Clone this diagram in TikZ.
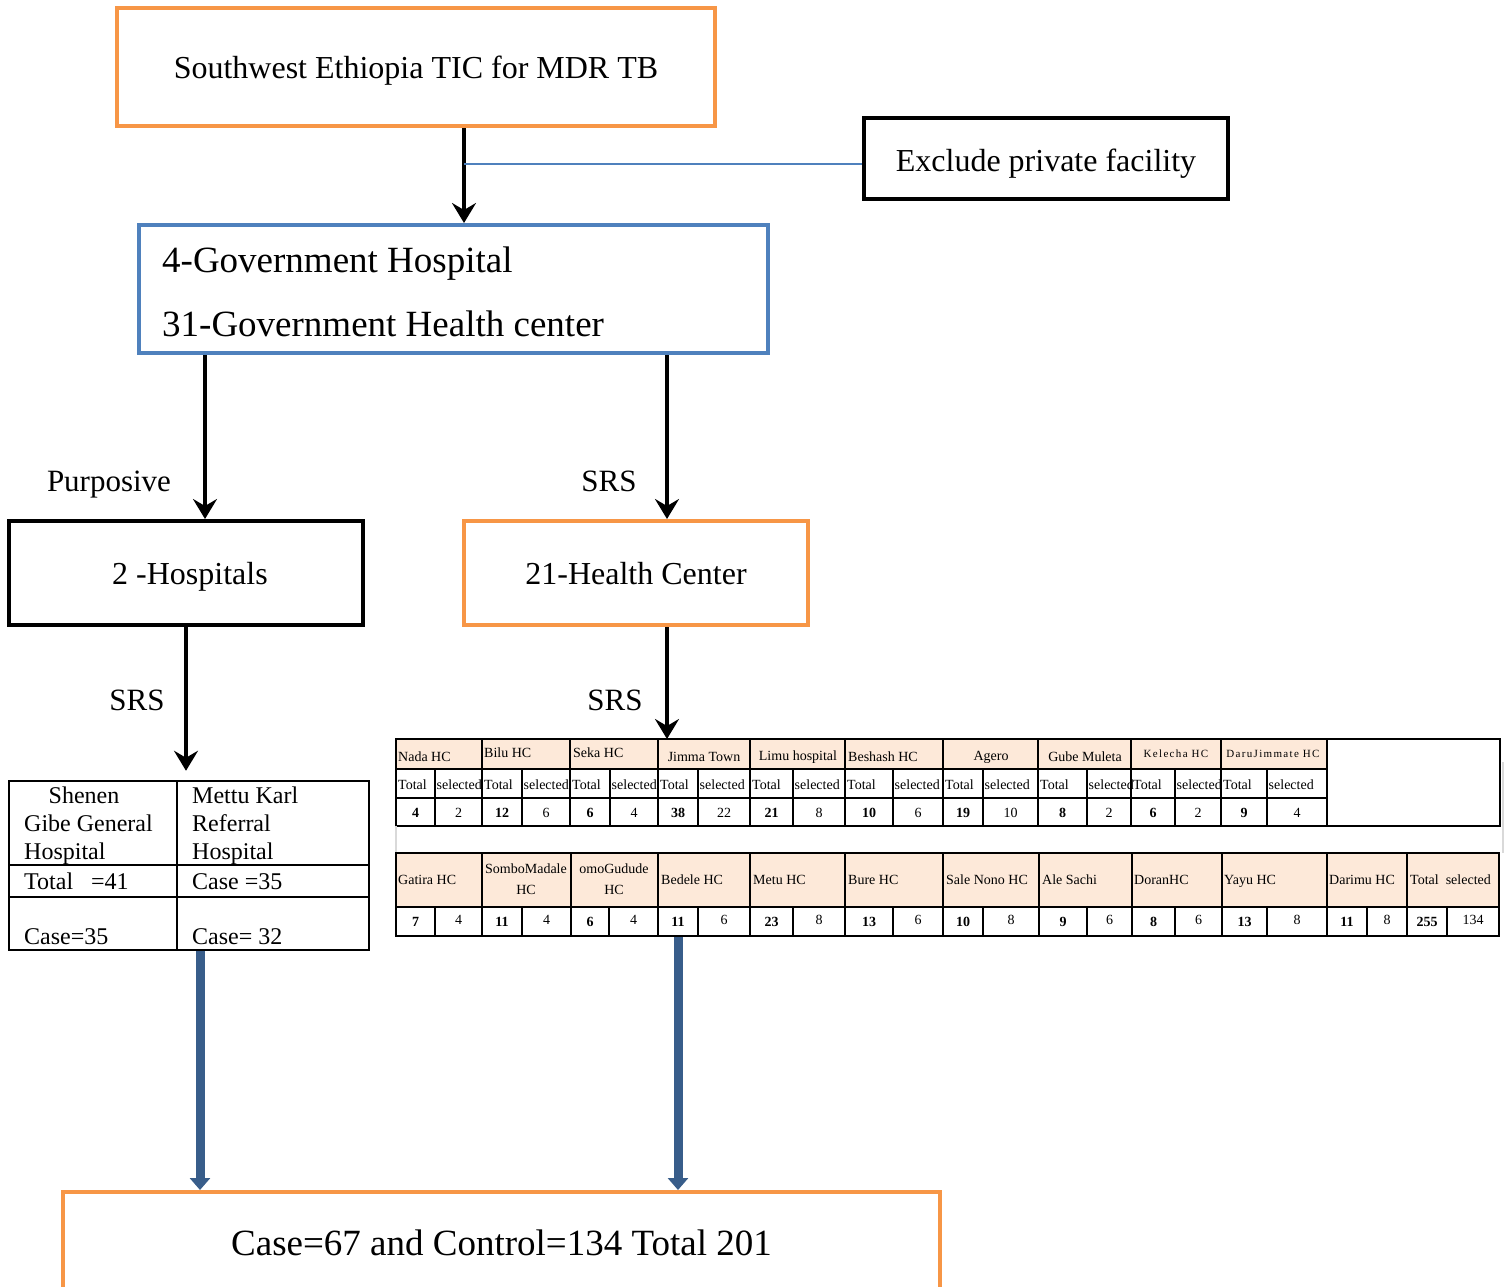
\documentclass[tikz,border=0pt]{standalone}
\usepackage{fontspec}
\setmainfont{Liberation Serif}
\usetikzlibrary{arrows.meta,calc}
\definecolor{orangeB}{RGB}{247,150,70}
\definecolor{blueB}{RGB}{79,129,189}
\definecolor{blueA}{RGB}{56,93,138}
\definecolor{peach}{RGB}{253,233,217}
\begin{document}
\begin{tikzpicture}[x=1pt,y=-1pt,
  box/.style={draw, line width=4pt, inner sep=0pt, text height=28pt, text depth=5pt, font=\fontsize{32}{38}\selectfont},
  arr/.style={line width=4pt, -{Stealth[length=20pt,width=24pt,inset=7pt]}},
  barr/.style={blueA, line width=9pt, -{Triangle[length=12pt,width=20pt]}},
  lbl/.style={inner sep=0pt, text height=24pt, text depth=3.5pt, font=\fontsize{31}{36}\selectfont},
  big/.style={inner sep=0pt, text height=29pt, text depth=4.6pt, font=\fontsize{37}{44}\selectfont},
  stxt/.style={inner sep=0pt, text height=19pt, text depth=3.2pt, font=\fontsize{24}{28}\selectfont},
  hdr/.style={inner sep=0pt, align=center, font=\fontsize{14}{21}\selectfont},
  hdrs/.style={inner sep=0pt, align=center, font=\fontsize{11}{14}\selectfont\addfontfeature{LetterSpace=12}},
  ctxt/.style={inner sep=0pt, text height=11pt, text depth=1.8pt, font=\fontsize{14}{16}\selectfont},
  ntxt/.style={inner sep=0pt, text height=11pt, text depth=1.8pt, font=\fontsize{14}{16}\selectfont\bfseries},
  grid/.style={line width=2.2pt}
]
\useasboundingbox (0,0) rectangle (1509,1286);
\clip (0,0) rectangle (1509,1286);

% main boxes
\node[box, draw=orangeB, minimum width=598pt, minimum height=118pt] (tic) at (416,67) {Southwest Ethiopia TIC for MDR TB};
\node[box, draw=black, minimum width=364pt, minimum height=81pt, text height=31pt] (excl) at (1046,158.5) {Exclude private facility};
\node[box, draw=blueB, minimum width=629pt, minimum height=128pt] (gov) at (453.5,289) {};
\node[big, anchor=west] (govA) at (162,260) {4-Government Hospital};
\node[big, anchor=west] (govB) at (162,324) {31-Government Health center};
\node[box, draw=black, minimum width=354pt, minimum height=104pt] (hosp) at (186,573) {\hspace*{8pt}2 -Hospitals};
\node[box, draw=orangeB, minimum width=344pt, minimum height=104pt] (hc) at (636,573) {21-Health Center};
\node[box, draw=orangeB, minimum width=877pt, minimum height=100pt, text height=32pt, font=\fontsize{37}{44}\selectfont] (final) at (501.5,1242) {Case=67 and Control=134 Total 201};

% labels
\node[lbl] (purp) at (109,481) {Purposive};
\node[lbl] (srs1) at (609,481) {SRS};
\node[lbl] (srs2) at (137,700) {SRS};
\node[lbl] (srs3) at (615,700) {SRS};

% small table
\node[draw, line width=2.5pt, minimum width=360pt, minimum height=169pt, inner sep=0pt] (stab) at (189,865.5) {};
\draw[line width=2.5pt] (177,781) -- (177,950);
\draw[line width=2.5pt] (9,865) -- (369,865);
\draw[line width=2.5pt] (9,897) -- (369,897);
\node[stxt] (s1) at (84,796) {Shenen};
\node[stxt, anchor=west] (s2) at (24,824) {Gibe General};
\node[stxt, anchor=west] (s3) at (24,852) {Hospital};
\node[stxt, anchor=west] (s4) at (192,796) {Mettu Karl};
\node[stxt, anchor=west] (s5) at (192,824) {Referral};
\node[stxt, anchor=west] (s6) at (192,852) {Hospital};
\node[stxt, anchor=west] (s7) at (24,882) {Total \ \ =41};
\node[stxt, anchor=west] (s8) at (192,882) {Case =35};
\node[stxt, anchor=west] (s9) at (24,937) {Case=35};
\node[stxt, anchor=west] (s10) at (192,937) {Case= 32};

% big table, top block
\foreach \a/\s/\b/\nm/\nb/\ns/\hx/\an/\hy/\st [count=\i] in {
  396/435/482/Nada HC/4/2/398/west/757/hdr,
  482/522/570/Bilu HC/12/6/484/west/753/hdr,
  570/610/658/Seka HC/6/4/573/west/753/hdr,
  658/698/750/Jimma Town/38/22/704/center/757/hdr,
  750/793/845/Limu hospital/21/8/798/center/757/hdr,
  845/893/943/Beshash HC/10/6/848/west/757/hdr,
  943/983/1038/Agero/19/10/991/center/757/hdr,
  1038/1087/1131/Gube Muleta/8/2/1085/center/757/hdr,
  1131/1175/1221/Kelecha HC/6/2/1176/center/754/hdrs,
  1221/1267/1327/DaruJimmate HC/9/4/1273/center/754/hdrs}{
  \fill[peach] (\a,739) rectangle (\b,769);
  \draw[grid] (\a,739) rectangle (\b,826);
  \draw[grid] (\a,769) -- (\b,769);
  \draw[grid] (\a,798) -- (\b,798);
  \draw[grid] (\s,769) -- (\s,826);
  \node[\st, anchor=\an] (th\i) at (\hx,\hy) {\nm};
  \node[ctxt, anchor=west] (tt\i) at (\a+2,785) {Total};
  \node[ctxt, anchor=west] (ts\i) at (\s+1.5,785) {selected};
  \node[ntxt] (tn\i) at ({(\a+\s)/2},813) {\nb};
  \node[ctxt] (tm\i) at ({(\s+\b)/2},813) {\ns};
}
\draw[grid] (1327,739) rectangle (1500,826);
\coordinate (tabtop) at (667,739);

% gap marks
\draw[black!15, line width=2pt] (396,826) -- (396,853);
\draw[black!15, line width=2pt] (1503,762) -- (1503,853);

% big table, bottom block
\foreach \a/\s/\b/\nm/\nb/\ns/\hx/\an [count=\i] in {
  396/435/482/Gatira HC/7/4/398/west,
  482/522/571/SomboMadale\\HC/11/4/526/center,
  571/609/658/omoGudude\\HC/6/4/614/center,
  658/698/750/Bedele HC/11/6/661/west,
  750/793/845/Metu HC/23/8/753/west,
  845/893/943/Bure HC/13/6/848/west,
  943/983/1039/Sale Nono HC/10/8/946/west,
  1039/1087/1132/Ale Sachi/9/6/1042/west,
  1132/1175/1222/DoranHC/8/6/1134/west,
  1222/1267/1327/Yayu HC/13/8/1224/west,
  1327/1367/1407/Darimu HC/11/8/1329/west,
  1407/1447/1499/Total\enspace selected/255/134/1410/west}{
  \fill[peach] (\a,853) rectangle (\b,907);
  \draw[grid] (\a,853) rectangle (\b,936);
  \draw[grid] (\a,907) -- (\b,907);
  \draw[grid] (\s,907) -- (\s,936);
  \node[hdr, anchor=\an] (bh\i) at (\hx,881) {\nm\vphantom{y}};
  \node[ntxt] (bn\i) at ({(\a+\s)/2},922) {\nb};
  \node[ctxt] (bm\i) at ({(\s+\b)/2},920) {\ns};
}
\coordinate (tabbot) at (678,937);

% connectors
\coordinate (xa) at (464,0);
\coordinate (xl) at (205,0);
\coordinate (xr) at (667,0);
\coordinate (xh) at (186,0);
\coordinate (xb) at (200,0);
\coordinate (xc) at (678,0);
\coordinate (jn) at (464,164);
\draw[arr] (xa |- tic.south) -- (xa |- gov.north);
\draw[blueB, line width=1.5pt] (jn) -- (jn -| excl.west);
\draw[arr] (xl |- gov.south) -- (xl |- hosp.north);
\draw[arr] (xr |- gov.south) -- (xr |- hc.north);
\draw[arr] (xh |- hosp.south) -- ($(xh |- stab.north)+(0,-9)$);
\draw[arr] (xr |- hc.south) -- (tabtop);
\draw[barr] (xb |- stab.south) -- (xb |- final.north);
\draw[barr] (tabbot) -- (xc |- final.north);
\end{tikzpicture}
\end{document}
